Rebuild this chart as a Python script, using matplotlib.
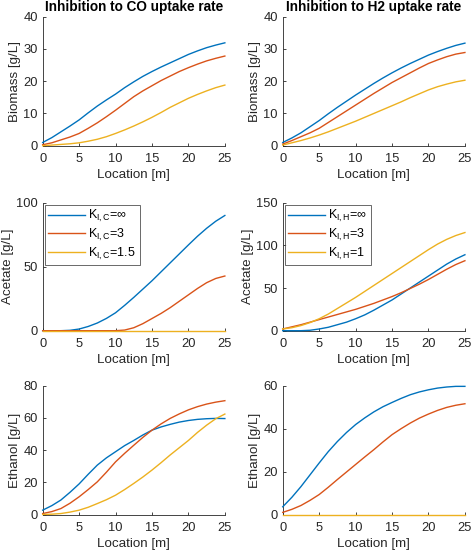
import matplotlib
matplotlib.use("Agg")
import matplotlib.pyplot as plt

plt.rcParams['font.family'] = ['Liberation Sans', 'DejaVu Sans']
plt.rcParams['mathtext.fontset'] = 'custom'
plt.rcParams['mathtext.rm'] = 'Liberation Sans'
plt.rcParams['mathtext.it'] = 'Liberation Sans'

loc = [0, 1.25, 2.5, 3.75, 5, 6.25, 7.5, 8.75, 10, 11.25, 12.5, 13.75, 15,
       16.25, 17.5, 18.75, 20, 21.25, 22.5, 23.75, 25]

# Inhibition to CO uptake rate (K_I,C = inf, 3, 1.5)
bio_co_inf = [1.0, 2.5, 4.3, 6.1, 8.0, 10.2, 12.3, 14.2, 16.0, 18.0, 19.8, 21.5, 23.0,
              24.4, 25.7, 27.0, 28.3, 29.4, 30.4, 31.2, 31.9]
bio_co_3 = [0.3, 0.9, 1.8, 2.7, 3.8, 5.4, 7.1, 9.0, 11.0, 13.1, 15.2, 17.0, 18.6,
            20.2, 21.6, 23.0, 24.2, 25.3, 26.3, 27.1, 27.8]
bio_co_15 = [0.0, 0.2, 0.4, 0.6, 0.9, 1.4, 2.0, 2.8, 3.8, 4.9, 6.1, 7.4, 8.8,
             10.3, 11.9, 13.3, 14.7, 15.9, 17.0, 18.0, 18.8]

ace_co_inf = [0, 0, 0, 0.3, 1.3, 3.3, 6.0, 9.6, 14, 19.8, 26, 32.5, 39,
              46, 53, 60, 67, 73.8, 80, 85.5, 90]
ace_co_3 = [0, 0, 0, 0, 0, 0, 0, 0, 0, 0.5, 2.3, 5.5, 9.5,
            13.5, 18, 23, 28, 33, 37.5, 40.8, 42.7]
ace_co_15 = [0, 0, 0, 0, 0, 0, 0, 0, 0, 0, 0, 0, 0,
             0, 0, 0, 0, 0, 0, 0, 0]

eth_co_inf = [2.7, 5.5, 9.0, 13.8, 19.0, 25.0, 30.7, 35.2, 39.0, 42.8, 46.0, 49.4, 52.4,
              54.4, 56.0, 57.4, 58.4, 59.1, 59.5, 59.7, 59.6]
eth_co_3 = [0.6, 1.8, 3.7, 7.0, 11.0, 15.5, 20.3, 26.3, 32.7, 38.0, 43.0, 47.9, 52.4,
            56.3, 59.7, 62.5, 65.0, 67.0, 68.6, 69.8, 70.7]
eth_co_15 = [0.0, 0.2, 0.6, 1.5, 2.7, 4.5, 6.8, 9.2, 12.0, 15.5, 19.3, 23.3, 27.6,
             32.2, 37.0, 41.5, 46.0, 51.0, 55.5, 59.5, 62.4]

# Inhibition to H2 uptake rate (K_I,H = inf, 3, 1)
bio_h_inf = [1.0, 2.4, 4.0, 5.9, 7.8, 9.9, 11.9, 13.8, 15.7, 17.5, 19.3, 21.0, 22.6,
             24.1, 25.5, 26.8, 28.1, 29.2, 30.2, 31.1, 31.8]
bio_h_3 = [0.5, 1.6, 2.8, 4.0, 5.4, 7.2, 9.0, 10.8, 12.6, 14.4, 16.2, 17.9, 19.6,
           21.1, 22.6, 24.1, 25.5, 26.6, 27.6, 28.4, 28.9]
bio_h_1 = [0.2, 0.9, 1.6, 2.4, 3.3, 4.3, 5.4, 6.5, 7.6, 8.8, 10.0, 11.2, 12.4,
           13.6, 14.9, 16.1, 17.3, 18.3, 19.1, 19.8, 20.3]

ace_h_inf = [0, 0, 0, 0.5, 2, 4, 7, 10, 14, 18.5, 24, 30, 36,
             43, 50, 57, 64, 71, 78, 84, 89]
ace_h_3 = [2, 4.5, 7, 10, 13, 16, 19, 22, 25, 28.5, 32, 36, 40,
           44.5, 49.5, 54.5, 60, 66, 72, 77.5, 82]
ace_h_1 = [2, 3.5, 6, 9.5, 14, 19.5, 26, 32.5, 39, 46, 53, 60, 67,
           74, 81, 88, 95, 101.5, 107, 111.5, 115]

eth_h_inf = [3.6, 8.0, 13.0, 18.5, 24.0, 29.3, 34.0, 38.2, 41.9, 45.0, 47.8, 50.2, 52.2,
             54.1, 55.8, 57.1, 58.1, 58.9, 59.4, 59.7, 59.7]
eth_h_3 = [1.0, 2.4, 4.2, 6.6, 9.3, 12.7, 16.3, 19.8, 23.3, 26.8, 30.2, 33.8, 37.2,
           40.0, 42.6, 44.9, 46.8, 48.5, 49.9, 50.9, 51.6]
eth_h_1 = [0, 0, 0, 0, 0, 0, 0, 0, 0, 0, 0, 0, 0,
           0, 0, 0, 0, 0, 0, 0, 0]

labels_co = [r'$\mathregular{K_{I,C}}$=∞', r'$\mathregular{K_{I,C}}$=3', r'$\mathregular{K_{I,C}}$=1.5']
labels_h = [r'$\mathregular{K_{I,H}}$=∞', r'$\mathregular{K_{I,H}}$=3', r'$\mathregular{K_{I,H}}$=1']

colors = ['#0072BD', '#D95319', '#EDB120']
axcol = '#262626'

fig = plt.figure(figsize=(4.72, 5.53), dpi=100)

lefts = [0.0904, 0.599]
width = 0.386
rows = [(0.7365, 0.2333), (0.402, 0.2315), (0.0696, 0.2329)]

panels = [
    (0, 0, [bio_co_inf, bio_co_3, bio_co_15], 'Biomass [g/L]', 40, [0, 10, 20, 30, 40], None, 'Inhibition to CO uptake rate'),
    (0, 1, [bio_h_inf, bio_h_3, bio_h_1], 'Biomass [g/L]', 40, [0, 10, 20, 30, 40], None, 'Inhibition to H2 uptake rate'),
    (1, 0, [ace_co_inf, ace_co_3, ace_co_15], 'Acetate [g/L]', 100, [0, 50, 100], labels_co, None),
    (1, 1, [ace_h_inf, ace_h_3, ace_h_1], 'Acetate [g/L]', 150, [0, 50, 100, 150], labels_h, None),
    (2, 0, [eth_co_inf, eth_co_3, eth_co_15], 'Ethanol [g/L]', 80, [0, 20, 40, 60, 80], None, None),
    (2, 1, [eth_h_inf, eth_h_3, eth_h_1], 'Ethanol [g/L]', 60, [0, 20, 40, 60], None, None),
]

for r, c, series, ylab, ymax, yticks, labs, title in panels:
    b, h = rows[r]
    ax = fig.add_axes([lefts[c], b, width, h])
    for i, s in enumerate(series):
        ax.plot(loc, s, color=colors[i], lw=1.0, clip_on=False,
                label=(labs[i] if labs else None), zorder=3 + i)
    ax.set_xlim(0, 25)
    ax.set_ylim(0, ymax)
    ax.set_xticks([0, 5, 10, 15, 20, 25])
    ax.set_yticks(yticks)
    for sp in ['top', 'right']:
        ax.spines[sp].set_visible(False)
    for sp in ['left', 'bottom']:
        ax.spines[sp].set_color(axcol)
        ax.spines[sp].set_linewidth(0.6)
    ax.tick_params(direction='in', length=2.5, width=0.6, colors=axcol,
                   labelsize=9.3)
    ax.tick_params(axis='x', pad=5.5)
    ax.tick_params(axis='y', pad=3.5)
    ax.set_xlabel('Location [m]', fontsize=9.6, color=axcol, labelpad=2.5)
    ax.set_ylabel(ylab, fontsize=9.6, color=axcol, labelpad=1.5)
    if title:
        ax.set_title(title, fontsize=9.8, fontweight='bold', pad=4)
    if labs:
        leg = ax.legend(loc='upper left', fontsize=9.0, frameon=True, fancybox=False,
                        borderpad=0.3, handlelength=2.9, handletextpad=0.3,
                        labelspacing=0.2, borderaxespad=0.15)
        leg.get_frame().set_edgecolor(axcol)
        leg.get_frame().set_linewidth(0.6)

fig.savefig('out.png', dpi=100)
